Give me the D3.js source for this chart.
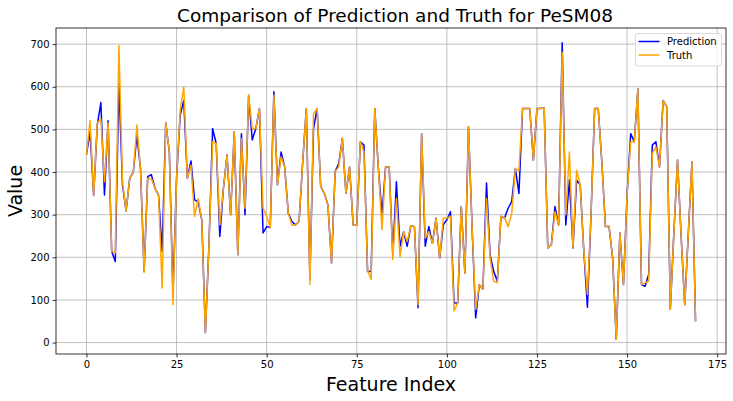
<!DOCTYPE html>
<html>
<head>
<meta charset="utf-8">
<script src="https://cdn.jsdelivr.net/npm/d3@7"></script>
<style>
  body { margin: 0; background: #fff; }
  svg { display: block; font-family: "DejaVu Sans", sans-serif; }
</style>
</head>
<body>
<svg id="chart" width="733" height="401"></svg>
<script>
const truth = [
  440,520,345,515,525,377,515,214,210,697,
  377,309,385,400,510,408,165,385,385,362,
  346,128,516,447,89,385,545,599,385,416,
  296,338,288,23,230,471,467,276,362,440,
  300,494,206,478,315,580,502,502,549,315,
  296,270,580,370,436,412,303,276,276,284,
  424,549,136,537,549,366,350,323,187,401,
  412,479,350,412,276,275,471,447,170,148,
  549,408,265,412,412,195,338,202,260,237,
  274,272,89,490,245,260,233,292,198,292,
  292,296,74,93,319,163,506,270,78,136,
  125,338,198,144,140,296,293,272,303,408,
  404,549,549,549,428,549,549,550,222,230,
  307,276,681,300,447,222,404,370,214,113,
  300,549,549,424,272,272,198,8,257,136,
  346,471,471,595,136,140,144,444,459,412,
  568,553,78,260,428,250,89,257,424,50
];
const prediction = [
  440,495,345,510,563,346,520,214,190,610,
  370,309,385,400,486,408,167,389,394,362,
  346,214,516,447,113,385,533,568,385,426,
  335,330,288,23,230,502,467,249,362,440,
  300,494,206,490,300,580,475,502,549,257,
  272,270,588,370,447,412,303,284,276,284,
  424,549,150,502,549,366,350,323,187,401,
  420,479,350,412,276,275,471,463,167,167,
  549,408,300,412,412,206,377,226,260,226,
  274,272,82,490,226,272,233,292,198,276,
  288,307,93,93,319,163,506,270,58,136,
  125,374,205,167,144,296,292,315,331,408,
  350,549,549,549,428,549,549,550,222,230,
  319,276,703,276,381,222,381,370,214,83,
  300,549,549,424,272,272,198,8,257,136,
  346,490,471,595,136,132,160,463,471,412,
  568,553,78,260,428,250,89,257,424,50
];
const xTicks = [0, 25, 50, 75, 100, 125, 150, 175];
const yTicks = [0, 100, 200, 300, 400, 500, 600, 700];
const seriesNames = ["Prediction", "Truth"];
const seriesColors = ["blue", "orange"];
const titleText = "Comparison of Prediction and Truth for PeSM08";

const svg = d3.select("#chart");
const L = 56, R = 726, T = 28, B = 354;
const n = truth.length;
const xm = (n - 1) * 0.05;
const all = truth.concat(prediction);
const ymin = d3.min(all), ymax = d3.max(all);
const ym = (ymax - ymin) * 0.05;
const x = d3.scaleLinear().domain([-xm, n - 1 + xm]).range([L, R]);
const y = d3.scaleLinear().domain([ymin - ym, ymax + ym]).range([B, T]);

// grid
const grid = svg.append("g");
grid.selectAll(".gx").data(xTicks).enter().append("line")
  .attr("x1", d => x(d)).attr("x2", d => x(d)).attr("y1", T).attr("y2", B)
  .attr("stroke", "#b0b0b0").attr("stroke-width", 0.8);
grid.selectAll(".gy").data(yTicks).enter().append("line")
  .attr("x1", L).attr("x2", R).attr("y1", d => y(d)).attr("y2", d => y(d))
  .attr("stroke", "#b0b0b0").attr("stroke-width", 0.8);

// lines
const idx = d3.range(n);
const line = arr => d3.line().x(i => x(i)).y(i => y(arr[i]))(idx);
svg.append("path").attr("d", line(prediction)).attr("fill", "none")
  .attr("stroke", seriesColors[0]).attr("stroke-width", 1.5).attr("stroke-linejoin", "round");
svg.append("path").attr("d", line(truth)).attr("fill", "none")
  .attr("stroke", seriesColors[1]).attr("stroke-width", 1.5).attr("stroke-linejoin", "round");

// axes
const xAxis = d3.axisBottom(x).tickValues(xTicks).tickSize(3.5).tickPadding(3);
const yAxis = d3.axisLeft(y).tickValues(yTicks).tickSize(3.5).tickPadding(3);
const gx = svg.append("g").attr("transform", `translate(0,${B})`).call(xAxis);
const gy = svg.append("g").attr("transform", `translate(${L},0)`).call(yAxis);
[gx, gy].forEach(g => {
  g.select(".domain").remove();
  g.selectAll("text").attr("font-size", 10).attr("font-family", "DejaVu Sans").attr("fill", "#000");
  g.selectAll("line").attr("stroke", "#000").attr("stroke-width", 0.8);
});

// frame
svg.append("rect").attr("x", L).attr("y", T).attr("width", R - L).attr("height", B - T)
  .attr("fill", "none").attr("stroke", "#000").attr("stroke-width", 0.8);

// title and labels
svg.append("text").attr("x", (L + R) / 2 + 4).attr("y", 22).attr("text-anchor", "middle")
  .attr("font-size", 18.5).text(titleText);
svg.append("text").attr("x", (L + R) / 2).attr("y", 391).attr("text-anchor", "middle")
  .attr("font-size", 19).text("Feature Index");
svg.append("text").attr("transform", `translate(22,${(T + B) / 2}) rotate(-90)`)
  .attr("text-anchor", "middle").attr("font-size", 19).text("Value");

// legend
const lg = svg.append("g");
lg.append("rect").attr("x", 635.5).attr("y", 33.5).attr("width", 86).attr("height", 32.5)
  .attr("rx", 2.5).attr("fill", "#fff").attr("fill-opacity", 0.8)
  .attr("stroke", "#d0d0d0").attr("stroke-width", 0.8);
seriesNames.forEach((name, i) => {
  const cy = 41.5 + i * 13.5;
  lg.append("line").attr("x1", 638.5).attr("x2", 659.5).attr("y1", cy).attr("y2", cy)
    .attr("stroke", seriesColors[i]).attr("stroke-width", 1.5);
  lg.append("text").attr("x", 667).attr("y", cy + 3.6).attr("font-size", 10).text(name);
});
</script>
</body>
</html>
